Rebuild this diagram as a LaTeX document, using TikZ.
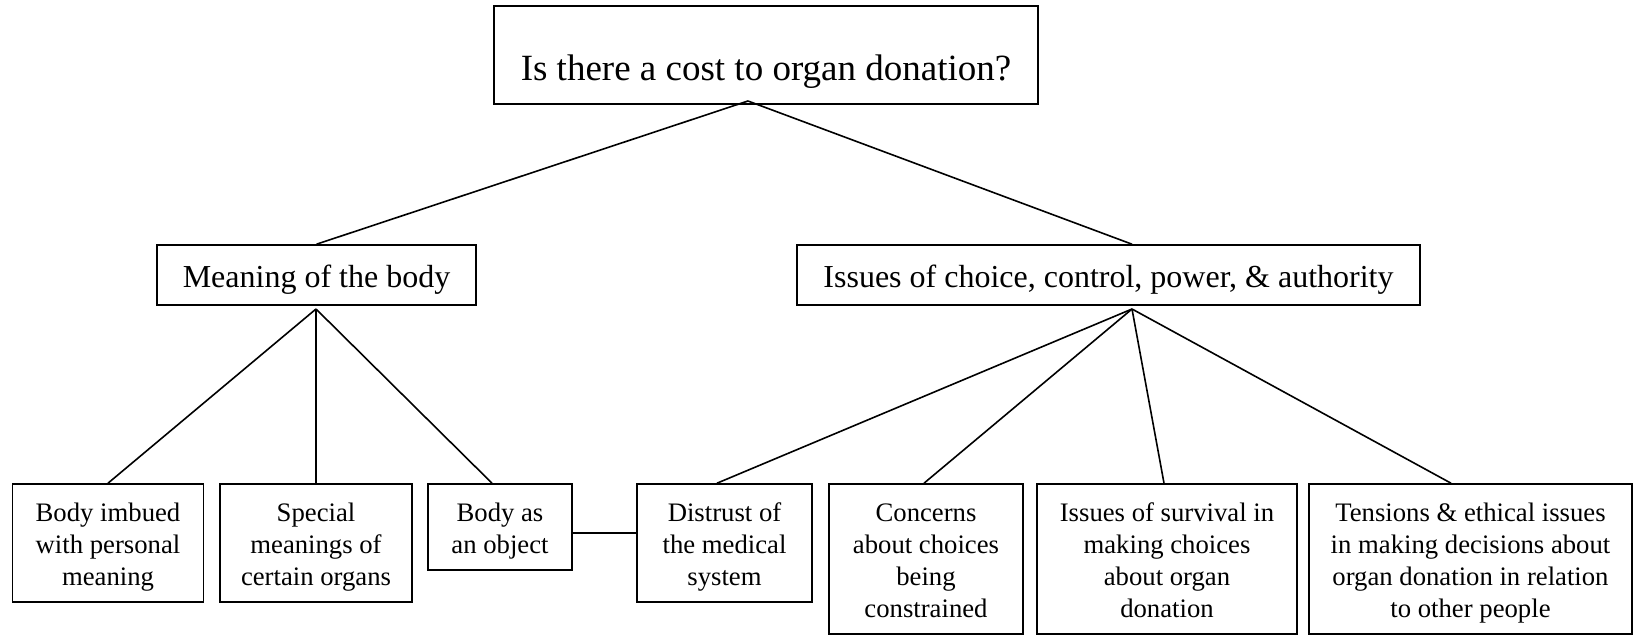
\documentclass[tikz,border=0pt]{standalone}
\usepackage{fontspec}
\setmainfont{Liberation Serif}
\begin{document}
\begin{tikzpicture}[x=1pt,y=-1pt,
  box/.style={draw, line width=1.6pt, rectangle, inner sep=0pt, align=center},
  small/.style={font=\fontsize{26.7}{32}\selectfont, text depth=6pt},
  two/.style={text height=59pt},
  three/.style={text height=91pt},
  four/.style={text height=123pt},
  mid/.style={font=\fontsize{32}{38}\selectfont, text height=31pt, text depth=7pt},
  conn/.style={line width=1.6pt}]
\useasboundingbox (0,0) rectangle (1637,635);
% top
\node[box, minimum width=544pt, minimum height=98pt, font=\fontsize{37}{44}\selectfont, text height=58pt, text depth=8pt] (top) at (766,55) {Is there a cost to organ donation?};
% middle
\node[box, mid, minimum width=319pt, minimum height=60pt] (mean) at (316.5,275) {Meaning of the body};
\node[box, mid, minimum width=623pt, minimum height=60pt] (iss) at (1108.5,275) {Issues of choice, control, power, \& authority};
% bottom
\node[box, small, three, minimum width=191pt, minimum height=118pt] (b1) at (108,543) {Body imbued\\with personal\\meaning};
\node[box, small, three, minimum width=192pt, minimum height=118pt] (b2) at (316,543) {Special\\meanings of\\certain organs};
\node[box, small, two, minimum width=144pt, minimum height=86pt] (b3) at (500,527) {Body as\\an object};
\node[box, small, three, minimum width=175pt, minimum height=118pt] (b4) at (724.5,543) {Distrust of\\the medical\\system};
\node[box, small, four, minimum width=194pt, minimum height=150pt] (b5) at (926,559) {Concerns\\about choices\\being\\constrained};
\node[box, small, four, minimum width=260pt, minimum height=150pt] (b6) at (1167,559) {Issues of survival in\\making choices\\about organ\\donation};
\node[box, small, four, minimum width=323pt, minimum height=150pt] (b7) at (1470.5,559) {Tensions \& ethical issues\\in making decisions about\\organ donation in relation\\to other people};
% apexes
\coordinate (tapex) at (748,101);
\coordinate (mapex) at (316,309);
\coordinate (iapex) at (1132,309);
% connectors
\draw[conn] (tapex) -- (mean.north);
\draw[conn] (tapex) -- ([xshift=23.5pt]iss.north);
\draw[conn] (mapex) -- (b1.north);
\draw[conn] (mapex) -- (b2.north);
\draw[conn] (mapex) -- ([xshift=-8pt]b3.north);
\draw[conn] (iapex) -- ([xshift=-7.5pt]b4.north);
\draw[conn] (iapex) -- ([xshift=-2pt]b5.north);
\draw[conn] (iapex) -- ([xshift=-3pt]b6.north);
\draw[conn] (iapex) -- ([xshift=-19.5pt]b7.north);
\coordinate (hl) at ([yshift=-6pt]b3.east);
\draw[conn] (hl) -- (b4.west |- hl);
\end{tikzpicture}
\end{document}
